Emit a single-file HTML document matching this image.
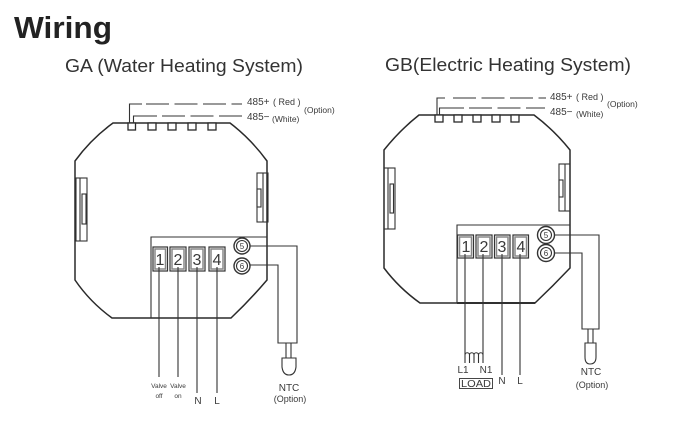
<!DOCTYPE html>
<html><head><meta charset="utf-8">
<style>
html,body{margin:0;padding:0;background:#fff;width:682px;height:439px;overflow:hidden}
svg{display:block;filter:blur(.3px)}
text{font-family:"Liberation Sans",sans-serif;fill:#3a3a3a}
.o{fill:none;stroke:#2a2a2a;stroke-width:1.5}
.t{fill:none;stroke:#333;stroke-width:1.1}
.b{fill:#fff;stroke:#2a2a2a;stroke-width:1.3}
.k{fill:#fff;stroke:#333;stroke-width:1.2}
.i{fill:#fff;stroke:#888;stroke-width:1.5}
.c{fill:#fff;stroke:#333;stroke-width:1.4}
.d{fill:none;stroke:#333;stroke-width:1.1;stroke-dasharray:23 5.5}
</style></head><body>
<svg width="682" height="439" viewBox="0 0 682 439" xmlns="http://www.w3.org/2000/svg">
<text x="14" y="38" font-size="31" font-weight="bold" textLength="98" lengthAdjust="spacingAndGlyphs" style="fill:#222">Wiring</text>
<text x="65" y="72" font-size="18.5" textLength="238" lengthAdjust="spacingAndGlyphs" style="fill:#333">GA (Water Heating System)</text>
<text x="385" y="71" font-size="18.5" textLength="246" lengthAdjust="spacingAndGlyphs" style="fill:#333">GB(Electric Heating System)</text>

<!-- GA device -->
<path class="o" d="M113 123H230Q251 139 267 161V280Q250 300 231 318H112Q90 302 75 280V161Q91 139 113 123Z"/>
<g class="b">
<rect x="128" y="123" width="7.500" height="7"/><rect x="148" y="123" width="8" height="7"/><rect x="168" y="123" width="8" height="7"/><rect x="188" y="123" width="8" height="7"/><rect x="208" y="123" width="8" height="7"/>
</g>
<path class="t" d="M129.500 123V104H142"/><path class="d" d="M146 104H242"/>
<path class="t" d="M133.500 123V116H157"/><path class="d" d="M162 116H242"/>
<text x="247" y="105" font-size="10">485+</text><text x="273" y="105" font-size="9">( Red )</text>
<text x="247" y="120" font-size="10">485−</text><text x="272" y="122" font-size="8.500">(White)</text>
<text x="304" y="113" font-size="8.500">(Option)</text>
<rect class="t" x="76" y="178" width="11" height="63"/><path class="t" d="M80 178V241"/><rect class="t" x="82" y="194" width="4" height="30"/>
<rect class="t" x="257" y="173" width="11" height="49"/><path class="t" d="M263 173V222"/><rect class="t" x="257" y="189" width="4" height="18"/>
<path class="t" d="M151 318V237H267"/>
<g class="k"><rect x="153" y="247" width="14.500" height="24"/><rect x="170" y="247" width="16" height="24"/><rect x="189" y="247" width="16" height="24"/><rect x="209" y="247" width="16" height="24"/></g>
<g class="i"><rect x="155" y="249" width="10.500" height="20"/><rect x="172" y="249" width="12" height="20"/><rect x="191" y="249" width="12" height="20"/><rect x="211" y="249" width="12" height="20"/></g>
<g font-size="16" text-anchor="middle"><text x="160" y="265">1</text><text x="178" y="265">2</text><text x="197" y="265">3</text><text x="217" y="265">4</text></g>
<path class="t" d="M159 267V377M178 267V377M197 267V393M217 267V393"/>
<circle class="c" cx="242" cy="246" r="8"/><circle class="t" cx="242" cy="246" r="5.500"/>
<circle class="c" cx="242" cy="266" r="8"/><circle class="t" cx="242" cy="266" r="5.500"/>
<g font-size="8" text-anchor="middle"><text x="242" y="249">5</text><text x="242" y="269">6</text></g>
<path class="t" d="M250 246H297V343H278V265H250M286 343V358M291 343V358"/>
<path class="t" d="M282 358H296V367Q295 375 289 375Q283 375 282 367Z"/>
<g font-size="6.500" text-anchor="middle"><text x="159" y="388">Valve</text><text x="159" y="398">off</text><text x="178" y="388">Valve</text><text x="178" y="398">on</text></g>
<g font-size="10" text-anchor="middle"><text x="198" y="404">N</text><text x="217" y="404">L</text></g>
<text x="289" y="391" font-size="10" text-anchor="middle">NTC</text>
<text x="290" y="402" font-size="9" text-anchor="middle">(Option)</text>

<!-- GB device -->
<path class="o" d="M419 115H534Q554 130 570 150V268Q553 286 535 303H420Q399 288 384 268V150Q400 130 419 115Z"/>
<path d="M457 303H535" stroke="#222" stroke-width="1.8" fill="none"/>
<g class="b">
<rect x="435" y="115" width="8" height="7"/><rect x="454" y="115" width="8" height="7"/><rect x="473" y="115" width="8" height="7"/><rect x="492" y="115" width="8" height="7"/><rect x="511" y="115" width="8" height="7"/>
</g>
<path class="t" d="M437 115V98H445"/><path class="d" d="M453 98H546"/>
<path class="t" d="M439.500 115V108H464"/><path class="d" d="M469 108H545"/>
<text x="550" y="100" font-size="10">485+</text><text x="576" y="100" font-size="9">( Red )</text>
<text x="550" y="115" font-size="10">485−</text><text x="576" y="117" font-size="8.500">(White)</text>
<text x="607" y="107" font-size="8.500">(Option)</text>
<rect class="t" x="384" y="168" width="11" height="61"/><path class="t" d="M388 168V229"/><rect class="t" x="390" y="184" width="3.500" height="29"/>
<rect class="t" x="559" y="164" width="11" height="47"/><path class="t" d="M565 164V211"/><rect class="t" x="559" y="180" width="4" height="17"/>
<path class="t" d="M457 303V225H570"/>
<g class="k"><rect x="457.500" y="235" width="16" height="23"/><rect x="476" y="235" width="16" height="23"/><rect x="494.500" y="235" width="15.500" height="23"/><rect x="513" y="235" width="15.500" height="23"/></g>
<g class="i"><rect x="459.500" y="237" width="12" height="19"/><rect x="478" y="237" width="12" height="19"/><rect x="496.500" y="237" width="11.500" height="19"/><rect x="515" y="237" width="11.500" height="19"/></g>
<g font-size="16" text-anchor="middle"><text x="466" y="252">1</text><text x="484" y="252">2</text><text x="502" y="252">3</text><text x="521" y="252">4</text></g>
<path class="t" d="M465 254V355M483 254V355M502 254V375M520 254V375"/>
<path class="t" d="M465 363V355A2.250 2.250 0 0 1 469.500 355V363M469.500 355A2.250 2.250 0 0 1 474 355V363M474 355A2.250 2.250 0 0 1 478.500 355V363M478.500 355A2.250 2.250 0 0 1 483 355V363"/>
<circle class="c" cx="546" cy="235" r="8.500"/><circle class="t" cx="546" cy="235" r="5.500"/>
<circle class="c" cx="546" cy="253" r="8.500"/><circle class="t" cx="546" cy="253" r="5.500"/>
<g font-size="8" text-anchor="middle"><text x="546" y="238">5</text><text x="546" y="256">6</text></g>
<path class="t" d="M554 235H599V329H582V253H554M588 329V343M593 329V343"/>
<path class="t" d="M585 343H596V357Q596 364 590 364Q585 364 585 357Z"/>
<g font-size="10" text-anchor="middle"><text x="463" y="373">L1</text><text x="486" y="373">N1</text></g>
<rect class="t" x="459.500" y="378.500" width="33" height="10" style="stroke-width:.9"/>
<text x="461" y="387" font-size="10" textLength="30" lengthAdjust="spacingAndGlyphs">LOAD</text>
<g font-size="10" text-anchor="middle"><text x="502" y="384">N</text><text x="520" y="384">L</text><text x="591" y="375">NTC</text></g>
<text x="592" y="388" font-size="9" text-anchor="middle">(Option)</text>
</svg>
</body></html>
